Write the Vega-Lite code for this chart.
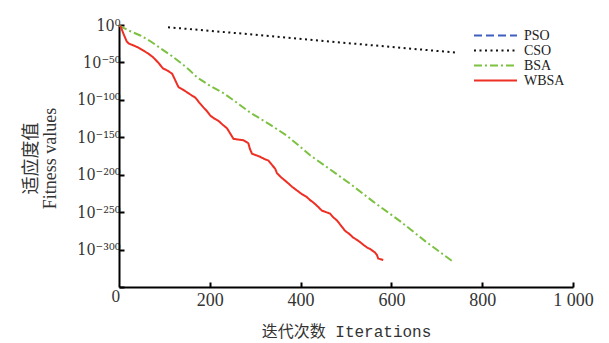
{
  "$schema": "https://vega.github.io/schema/vega-lite/v6.json",
  "width": 454,
  "height": 262,
  "autosize": "none",
  "padding": {"left": 119, "top": 25, "right": 36, "bottom": 56},
  "background": "#ffffff",
  "config": {
    "view": {"stroke": null},
    "axis": {"grid": false, "domainColor": "#000000", "domainWidth": 2, "tickColor": "#000000", "tickWidth": 2, "tickSize": -5, "labelFont": "Liberation Serif", "labelColor": "#333333", "titleColor": "#333333", "titleFontWeight": "normal"},
    "legend": {
      "title": null, "orient": "none", "legendX": 354, "legendY": 4,
      "symbolType": "stroke", "symbolSize": 1849, "symbolStrokeWidth": 2,
      "labelFont": "Liberation Serif", "labelFontSize": 14, "labelColor": "#222222",
      "labelOffset": 6, "rowPadding": 0, "clipHeight": 13
    }
  },
  "data": {"values": [
    {"algorithm": "CSO", "iteration": 108, "lg_fitness": -3},
    {"algorithm": "CSO", "iteration": 300, "lg_fitness": -13},
    {"algorithm": "CSO", "iteration": 500, "lg_fitness": -24},
    {"algorithm": "CSO", "iteration": 745, "lg_fitness": -37},
    {"algorithm": "BSA", "iteration": 1, "lg_fitness": -1},
    {"algorithm": "BSA", "iteration": 20, "lg_fitness": -7},
    {"algorithm": "BSA", "iteration": 47, "lg_fitness": -14},
    {"algorithm": "BSA", "iteration": 70, "lg_fitness": -22},
    {"algorithm": "BSA", "iteration": 91, "lg_fitness": -31},
    {"algorithm": "BSA", "iteration": 113, "lg_fitness": -40},
    {"algorithm": "BSA", "iteration": 135, "lg_fitness": -50},
    {"algorithm": "BSA", "iteration": 155, "lg_fitness": -60},
    {"algorithm": "BSA", "iteration": 172, "lg_fitness": -70},
    {"algorithm": "BSA", "iteration": 200, "lg_fitness": -81},
    {"algorithm": "BSA", "iteration": 230, "lg_fitness": -91},
    {"algorithm": "BSA", "iteration": 260, "lg_fitness": -104},
    {"algorithm": "BSA", "iteration": 289, "lg_fitness": -117},
    {"algorithm": "BSA", "iteration": 330, "lg_fitness": -132},
    {"algorithm": "BSA", "iteration": 370, "lg_fitness": -148},
    {"algorithm": "BSA", "iteration": 396, "lg_fitness": -161},
    {"algorithm": "BSA", "iteration": 421, "lg_fitness": -174},
    {"algorithm": "BSA", "iteration": 465, "lg_fitness": -193},
    {"algorithm": "BSA", "iteration": 509, "lg_fitness": -212},
    {"algorithm": "BSA", "iteration": 560, "lg_fitness": -236},
    {"algorithm": "BSA", "iteration": 619, "lg_fitness": -262},
    {"algorithm": "BSA", "iteration": 675, "lg_fitness": -289},
    {"algorithm": "BSA", "iteration": 733, "lg_fitness": -315},
    {"algorithm": "WBSA", "iteration": 2, "lg_fitness": -1},
    {"algorithm": "WBSA", "iteration": 5, "lg_fitness": -4},
    {"algorithm": "WBSA", "iteration": 10, "lg_fitness": -12},
    {"algorithm": "WBSA", "iteration": 17, "lg_fitness": -22},
    {"algorithm": "WBSA", "iteration": 22, "lg_fitness": -25},
    {"algorithm": "WBSA", "iteration": 31, "lg_fitness": -27},
    {"algorithm": "WBSA", "iteration": 42, "lg_fitness": -30},
    {"algorithm": "WBSA", "iteration": 53, "lg_fitness": -34},
    {"algorithm": "WBSA", "iteration": 64, "lg_fitness": -38},
    {"algorithm": "WBSA", "iteration": 75, "lg_fitness": -43},
    {"algorithm": "WBSA", "iteration": 86, "lg_fitness": -50},
    {"algorithm": "WBSA", "iteration": 97, "lg_fitness": -58},
    {"algorithm": "WBSA", "iteration": 107, "lg_fitness": -61},
    {"algorithm": "WBSA", "iteration": 117, "lg_fitness": -65},
    {"algorithm": "WBSA", "iteration": 124, "lg_fitness": -74},
    {"algorithm": "WBSA", "iteration": 131, "lg_fitness": -83},
    {"algorithm": "WBSA", "iteration": 140, "lg_fitness": -86},
    {"algorithm": "WBSA", "iteration": 150, "lg_fitness": -90},
    {"algorithm": "WBSA", "iteration": 160, "lg_fitness": -94},
    {"algorithm": "WBSA", "iteration": 168, "lg_fitness": -97},
    {"algorithm": "WBSA", "iteration": 176, "lg_fitness": -103},
    {"algorithm": "WBSA", "iteration": 186, "lg_fitness": -110},
    {"algorithm": "WBSA", "iteration": 195, "lg_fitness": -116},
    {"algorithm": "WBSA", "iteration": 201, "lg_fitness": -121},
    {"algorithm": "WBSA", "iteration": 210, "lg_fitness": -125},
    {"algorithm": "WBSA", "iteration": 219, "lg_fitness": -128},
    {"algorithm": "WBSA", "iteration": 228, "lg_fitness": -133},
    {"algorithm": "WBSA", "iteration": 238, "lg_fitness": -138},
    {"algorithm": "WBSA", "iteration": 245, "lg_fitness": -145},
    {"algorithm": "WBSA", "iteration": 252, "lg_fitness": -152},
    {"algorithm": "WBSA", "iteration": 262, "lg_fitness": -153},
    {"algorithm": "WBSA", "iteration": 274, "lg_fitness": -154},
    {"algorithm": "WBSA", "iteration": 285, "lg_fitness": -158},
    {"algorithm": "WBSA", "iteration": 288, "lg_fitness": -165},
    {"algorithm": "WBSA", "iteration": 293, "lg_fitness": -172},
    {"algorithm": "WBSA", "iteration": 302, "lg_fitness": -174},
    {"algorithm": "WBSA", "iteration": 311, "lg_fitness": -176},
    {"algorithm": "WBSA", "iteration": 320, "lg_fitness": -179},
    {"algorithm": "WBSA", "iteration": 329, "lg_fitness": -181},
    {"algorithm": "WBSA", "iteration": 337, "lg_fitness": -187},
    {"algorithm": "WBSA", "iteration": 344, "lg_fitness": -192},
    {"algorithm": "WBSA", "iteration": 348, "lg_fitness": -198},
    {"algorithm": "WBSA", "iteration": 358, "lg_fitness": -204},
    {"algorithm": "WBSA", "iteration": 370, "lg_fitness": -210},
    {"algorithm": "WBSA", "iteration": 381, "lg_fitness": -216},
    {"algorithm": "WBSA", "iteration": 392, "lg_fitness": -221},
    {"algorithm": "WBSA", "iteration": 403, "lg_fitness": -226},
    {"algorithm": "WBSA", "iteration": 414, "lg_fitness": -230},
    {"algorithm": "WBSA", "iteration": 421, "lg_fitness": -234},
    {"algorithm": "WBSA", "iteration": 428, "lg_fitness": -237},
    {"algorithm": "WBSA", "iteration": 437, "lg_fitness": -242},
    {"algorithm": "WBSA", "iteration": 447, "lg_fitness": -248},
    {"algorithm": "WBSA", "iteration": 456, "lg_fitness": -250},
    {"algorithm": "WBSA", "iteration": 465, "lg_fitness": -252},
    {"algorithm": "WBSA", "iteration": 472, "lg_fitness": -257},
    {"algorithm": "WBSA", "iteration": 480, "lg_fitness": -261},
    {"algorithm": "WBSA", "iteration": 489, "lg_fitness": -268},
    {"algorithm": "WBSA", "iteration": 498, "lg_fitness": -275},
    {"algorithm": "WBSA", "iteration": 507, "lg_fitness": -279},
    {"algorithm": "WBSA", "iteration": 516, "lg_fitness": -284},
    {"algorithm": "WBSA", "iteration": 524, "lg_fitness": -287},
    {"algorithm": "WBSA", "iteration": 531, "lg_fitness": -290},
    {"algorithm": "WBSA", "iteration": 539, "lg_fitness": -294},
    {"algorithm": "WBSA", "iteration": 546, "lg_fitness": -297},
    {"algorithm": "WBSA", "iteration": 555, "lg_fitness": -300},
    {"algorithm": "WBSA", "iteration": 564, "lg_fitness": -304},
    {"algorithm": "WBSA", "iteration": 568, "lg_fitness": -307},
    {"algorithm": "WBSA", "iteration": 571, "lg_fitness": -312},
    {"algorithm": "WBSA", "iteration": 577, "lg_fitness": -313},
    {"algorithm": "WBSA", "iteration": 582, "lg_fitness": -314}
  ]},
  "mark": {"type": "line", "strokeWidth": 2, "clip": true},
  "encoding": {
    "x": {
      "field": "iteration", "type": "quantitative",
      "scale": {"domain": [0, 1000], "nice": false, "zero": false},
      "axis": {
        "values": [200, 400, 600, 800, 1000],
        "labelExpr": "datum.value == 1000 ? '1 000' : datum.label",
        "labelFontSize": 18, "labelPadding": 9, "labelFlush": false,
        "title": "迭代次数 Iterations",
        "titleFont": "Liberation Mono, Noto Sans CJK SC",
        "titleFontSize": 16, "titlePadding": 14
      }
    },
    "y": {
      "field": "lg_fitness", "type": "quantitative",
      "scale": {"domain": [-350, 0], "nice": false, "zero": false},
      "axis": {
        "values": [0, -50, -100, -150, -200, -250, -300, -350],
        "labelExpr": "datum.value == -350 ? '0' : datum.value == 0 ? '10⁰' : datum.value == -50 ? '10⁻⁵⁰' : datum.value == -100 ? '10⁻¹⁰⁰' : datum.value == -150 ? '10⁻¹⁵⁰' : datum.value == -200 ? '10⁻²⁰⁰' : datum.value == -250 ? '10⁻²⁵⁰' : '10⁻³⁰⁰'",
        "labelFont": "DejaVu Serif Condensed, DejaVu Serif",
        "labelFontSize": 16, "labelPadding": 4, "labelFlush": false,
        "labelOffset": {"expr": "datum.value == -350 ? 9 : 0"},
        "title": ["适应度值", "Fitness values"],
        "titleFont": "Liberation Serif, Noto Sans CJK SC",
        "titleFontSize": 18, "titleLineHeight": 19,
        "titleAngle": -90, "titleAlign": "center", "titleBaseline": "middle",
        "titleX": -88, "titleY": 133
      }
    },
    "color": {
      "field": "algorithm", "type": "nominal",
      "scale": {"domain": ["PSO", "CSO", "BSA", "WBSA"], "range": ["#3f5fbf", "#111111", "#7dc142", "#ee2f24"]}
    },
    "strokeDash": {
      "field": "algorithm", "type": "nominal",
      "scale": {"domain": ["PSO", "CSO", "BSA", "WBSA"], "range": [[8, 4], [2, 3.5], [8, 3, 2, 3], [1, 0]]}
    }
  }
}
